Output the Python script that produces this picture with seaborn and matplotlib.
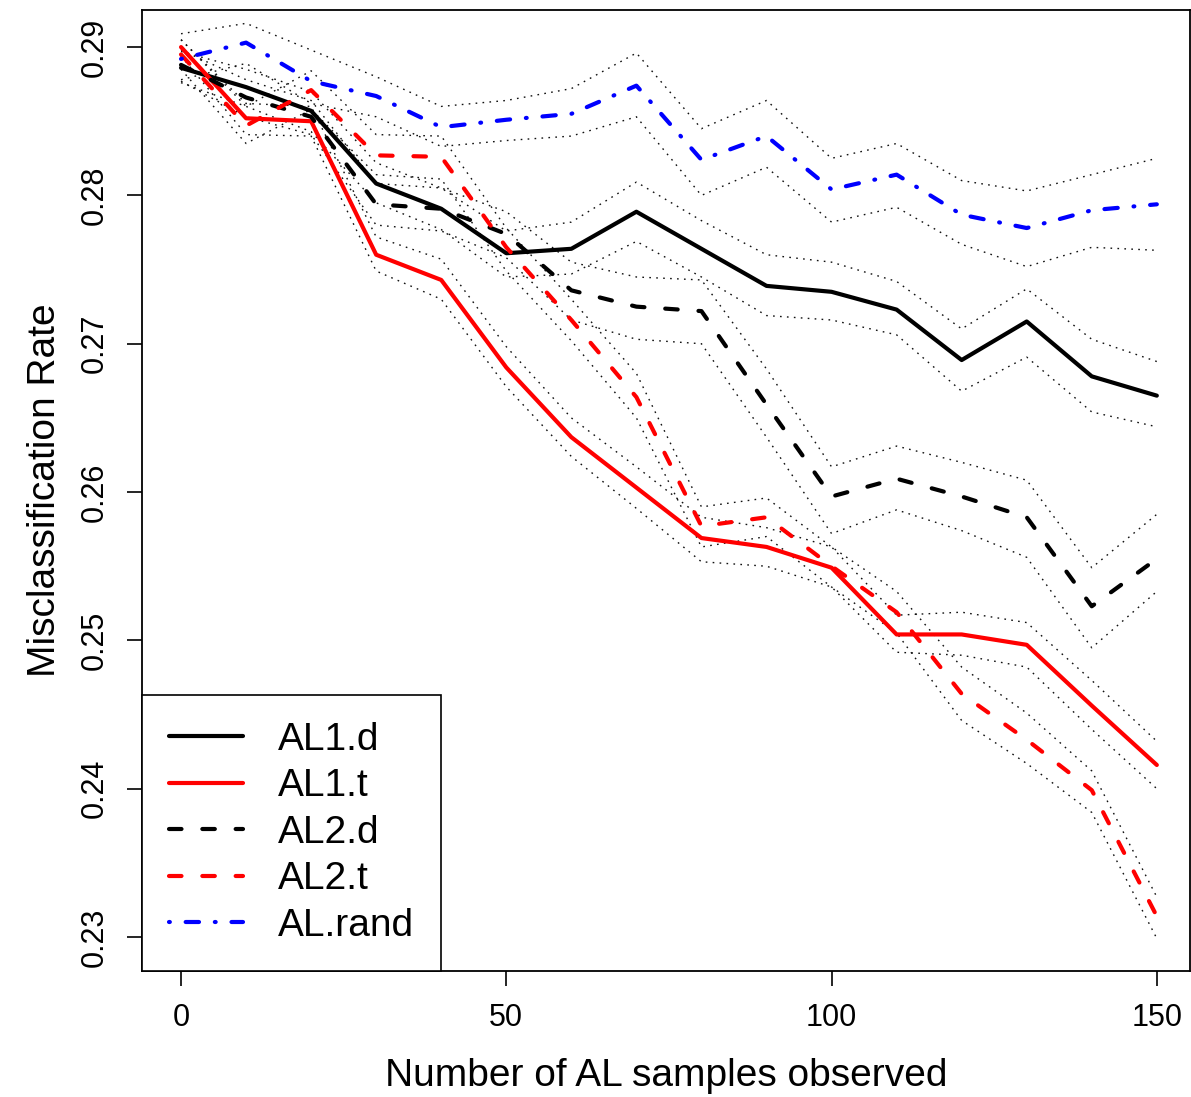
import numpy as np
import pandas as pd
import matplotlib
matplotlib.use("Agg")
import matplotlib.pyplot as plt
import seaborn as sns

# ---------------- data ----------------
n_samples = [0, 10, 20, 30, 40, 50, 60, 70, 80, 90, 100, 110, 120, 130, 140, 150]
series_names = ["AL1.d", "AL1.t", "AL2.d", "AL2.t", "AL.rand"]

al1_d = [0.2886, 0.2873, 0.2857, 0.2808, 0.2791, 0.2761, 0.2764, 0.2789, 0.2764, 0.2739,
         0.2735, 0.2723, 0.2689, 0.2715, 0.2678, 0.2665]
al1_t = [0.2900, 0.2852, 0.2850, 0.2760, 0.2743, 0.2684, 0.2637, 0.2603, 0.2569, 0.2563,
         0.2549, 0.2504, 0.2504, 0.2497, 0.2456, 0.2416]
al2_d = [0.2888, 0.2866, 0.2853, 0.2794, 0.2791, 0.2774, 0.2736, 0.2725, 0.2722, 0.2659,
         0.2597, 0.2609, 0.2597, 0.2583, 0.2523, 0.2555]
al2_t = [0.2895, 0.2847, 0.2871, 0.2827, 0.2826, 0.2765, 0.2716, 0.2664, 0.2577, 0.2583,
         0.2550, 0.2519, 0.2464, 0.2433, 0.2399, 0.2314]
al_rand = [0.2892, 0.2903, 0.2877, 0.2867, 0.2846, 0.2851, 0.2855, 0.2874, 0.2824, 0.2840,
           0.2804, 0.2814, 0.2787, 0.2778, 0.2790, 0.2794]

al1_d_hi = [0.2897, 0.2885, 0.2870, 0.2822, 0.2805, 0.2776, 0.2782, 0.2809, 0.2783, 0.2760,
            0.2755, 0.2742, 0.2710, 0.2737, 0.2703, 0.2688]
al1_d_lo = [0.2876, 0.2860, 0.2843, 0.2795, 0.2777, 0.2745, 0.2747, 0.2769, 0.2745, 0.2719,
            0.2716, 0.2706, 0.2668, 0.2691, 0.2654, 0.2644]
al1_t_hi = [0.2905, 0.2862, 0.2860, 0.2772, 0.2757, 0.2698, 0.2650, 0.2617, 0.2583, 0.2576,
            0.2563, 0.2517, 0.2519, 0.2512, 0.2473, 0.2432]
al1_t_lo = [0.2894, 0.2841, 0.2840, 0.2749, 0.2730, 0.2671, 0.2624, 0.2589, 0.2553, 0.2550,
            0.2536, 0.2492, 0.2490, 0.2482, 0.2440, 0.2400]
al2_d_hi = [0.2898, 0.2878, 0.2864, 0.2808, 0.2805, 0.2789, 0.2755, 0.2745, 0.2743, 0.2683,
            0.2617, 0.2631, 0.2620, 0.2608, 0.2549, 0.2585]
al2_d_lo = [0.2877, 0.2853, 0.2841, 0.2780, 0.2776, 0.2758, 0.2716, 0.2703, 0.2700, 0.2637,
            0.2572, 0.2588, 0.2574, 0.2556, 0.2495, 0.2533]
al2_t_hi = [0.2905, 0.2860, 0.2884, 0.2841, 0.2840, 0.2778, 0.2730, 0.2680, 0.2590, 0.2596,
            0.2563, 0.2533, 0.2482, 0.2451, 0.2412, 0.2327]
al2_t_lo = [0.2885, 0.2835, 0.2858, 0.2814, 0.2811, 0.2749, 0.2702, 0.2650, 0.2563, 0.2570,
            0.2536, 0.2505, 0.2446, 0.2417, 0.2384, 0.2299]
al_rand_hi = [0.2909, 0.2916, 0.2898, 0.2880, 0.2860, 0.2864, 0.2872, 0.2896, 0.2845, 0.2864,
              0.2825, 0.2835, 0.2810, 0.2803, 0.2814, 0.2825]
al_rand_lo = [0.2878, 0.2889, 0.2862, 0.2853, 0.2833, 0.2837, 0.2840, 0.2853, 0.2800, 0.2819,
              0.2782, 0.2792, 0.2767, 0.2752, 0.2765, 0.2763]

x_ticks = [0, 50, 100, 150]
y_ticks = [0.23, 0.24, 0.25, 0.26, 0.27, 0.28, 0.29]
y_tick_labels = ["0.23", "0.24", "0.25", "0.26", "0.27", "0.28", "0.29"]

# ---------------- frames ----------------
means = [al1_d, al1_t, al2_d, al2_t, al_rand]
his = [al1_d_hi, al1_t_hi, al2_d_hi, al2_t_hi, al_rand_hi]
los = [al1_d_lo, al1_t_lo, al2_d_lo, al2_t_lo, al_rand_lo]

rows = []
for name, m in zip(series_names, means):
    for xv, yv in zip(n_samples, m):
        rows.append({"x": xv, "y": yv, "series": name})
df = pd.DataFrame(rows)

band_rows = []
for name, h, l in zip(series_names, his, los):
    for xv, yv in zip(n_samples, h):
        band_rows.append({"x": xv, "y": yv, "band": name + "_hi"})
    for xv, yv in zip(n_samples, l):
        band_rows.append({"x": xv, "y": yv, "band": name + "_lo"})
dfb = pd.DataFrame(band_rows)

# ---------------- style ----------------
sns.set_style("white")
plt.rcParams["font.family"] = ["Liberation Sans", "DejaVu Sans"]
plt.rcParams["text.color"] = "black"
plt.rcParams["axes.labelcolor"] = "black"
plt.rcParams["xtick.color"] = "black"
plt.rcParams["ytick.color"] = "black"
plt.rcParams["lines.dash_capstyle"] = "round"
plt.rcParams["lines.solid_capstyle"] = "round"

palette = {"AL1.d": "black", "AL1.t": "#ff0000", "AL2.d": "black",
           "AL2.t": "#ff0000", "AL.rand": "#0000ff"}
dashes = {"AL1.d": "", "AL1.t": "", "AL2.d": (3.0, 5.0),
          "AL2.t": (3.0, 5.0), "AL.rand": (0.2, 3.8, 3.2, 3.8)}

fig = plt.figure(figsize=(11.91, 10.97), dpi=100)
ax = fig.add_axes([142 / 1191, 1 - 971 / 1097, (1190 - 142) / 1191, (971 - 10) / 1097])

# confidence bands (dotted)
sns.lineplot(data=dfb, x="x", y="y", units="band", estimator=None, sort=False,
             color="black", lw=1.0, ax=ax, legend=False)
for ln in ax.lines:
    ln.set_dashes((1.2, 3.8))
    ln.set_dash_capstyle("butt")
    ln.set_color("#111111")

# main series
sns.lineplot(data=df, x="x", y="y", hue="series", style="series",
             hue_order=series_names, style_order=series_names,
             palette=palette, dashes=dashes, estimator=None, sort=False,
             lw=3.0, ax=ax)

ax.set_xlim(-6, 155.1)
ax.set_ylim(0.22771, 0.2925)
ax.set_xticks(x_ticks)
ax.set_xticklabels([str(t) for t in x_ticks])
ax.set_yticks(y_ticks)
ax.set_yticklabels(y_tick_labels, rotation=90, va="center")
ax.tick_params(axis="both", direction="out", length=11, width=1.2, labelsize=22,
               colors="black", pad=12, left=True, bottom=True)
for sp in ax.spines.values():
    sp.set_visible(True)
    sp.set_color("black")
    sp.set_linewidth(1.3)

ax.set_xlabel("Number of AL samples observed", fontsize=28, labelpad=18)
ax.set_ylabel("Misclassification Rate", fontsize=28, labelpad=12)

handles, labels = ax.get_legend_handles_labels()
leg = ax.legend(handles, labels, loc="lower left", bbox_to_anchor=(0, 0),
                borderaxespad=0, fontsize=28, frameon=True, fancybox=False,
                edgecolor="black", framealpha=1, handlelength=1.9,
                handletextpad=0.9, labelspacing=0.27, borderpad=0.7)
leg.get_frame().set_linewidth(1.2)
for lh in leg.get_lines():
    lh.set_linewidth(3.0)

fig.savefig("out.png", dpi=100, facecolor="white")
